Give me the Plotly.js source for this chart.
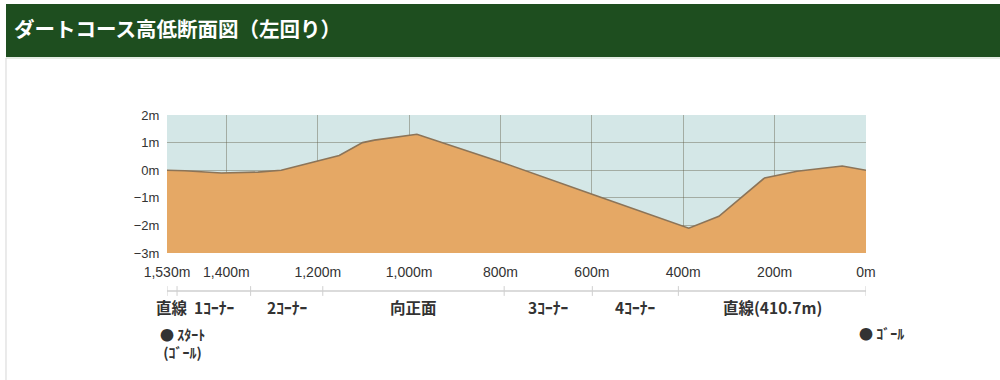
<!DOCTYPE html>
<html>
<head>
<meta charset="utf-8">
<script src="https://cdn.plot.ly/plotly-3.0.1.min.js"></script>
<style>
  html, body { margin: 0; padding: 0; background: #ffffff; }
  #chart { width: 1000px; height: 380px; }
</style>
</head>
<body>
<div id="chart"></div>
<script>
// ---- data ----
const titleText = "ダートコース高低断面図（左回り）";

// distance from the goal (m) and elevation (m)
const distance  = [1530, 1491, 1411, 1331, 1280, 1194, 1153, 1102, 1076, 983, 798, 598, 388, 322, 222, 151, 52, 0];
const elevation = [0.0, -0.02, -0.1, -0.07, 0.0, 0.35, 0.53, 1.0, 1.09, 1.3, 0.29, -0.88, -2.1, -1.67, -0.28, -0.04, 0.15, 0.0];

const xTickVals = [1530, 1400, 1200, 1000, 800, 600, 400, 200, 0];
const xTickText = ["1,530m", "1,400m", "1,200m", "1,000m", "800m", "600m", "400m", "200m", "0m"];
const yTickVals = [2, 1, 0, -1, -2, -3];
const yTickText = ["2m", "1m", "0m", "−1m", "−2m", "−3m"];
const yMin = -3, yMax = 2;

// course sections (boundaries in distance from goal) and their names
const sectionBounds = [1530, 1508, 1347, 1189, 792, 599, 410.7, 0];
const sectionNames  = ["直線", "1ｺｰﾅｰ", "2ｺｰﾅｰ", "向正面", "3ｺｰﾅｰ", "4ｺｰﾅｰ", "直線(410.7m)"];

const startLabel = "● ｽﾀｰﾄ<br> (ｺﾞｰﾙ)";
const goalLabel  = "● ｺﾞｰﾙ";
const startAt = 1530, goalAt = 0;

// ---- styles ----
const W = 1000, H = 380;
const px = v => v / W;           // x pixel -> paper
const py = v => 1 - v / H;       // y pixel -> paper
const sky = "#d4e7e7";
const ground = "#e5a865";
const profileLine = "#8c7458";
const gridCol = "rgba(95,90,70,0.42)";
const labelFont = "Noto Sans CJK JP";

const traces = [
  { // baseline at the axis bottom
    x: [sectionBounds[0], sectionBounds[sectionBounds.length - 1]],
    y: [yMin, yMin],
    type: "scatter", mode: "lines",
    line: { width: 0, color: ground },
    hoverinfo: "skip", showlegend: false, xaxis: "x", yaxis: "y"
  },
  { // ground profile
    x: distance, y: elevation,
    type: "scatter", mode: "lines",
    fill: "tonexty", fillcolor: ground,
    line: { color: profileLine, width: 1.6 },
    showlegend: false, xaxis: "x", yaxis: "y"
  },
  { // section ruler
    x: sectionBounds, y: sectionBounds.map(() => 0),
    type: "scatter", mode: "lines+markers",
    line: { color: "#cfcfcf", width: 1.5 },
    marker: { symbol: "line-ns-open", size: 7, line: { color: "#b5b5b5", width: 1 } },
    hoverinfo: "skip", showlegend: false, xaxis: "x2", yaxis: "y2"
  }
];

const annotations = [];
for (let i = 0; i < sectionNames.length; i++) {
  annotations.push({
    x: (sectionBounds[i] + sectionBounds[i + 1]) / 2, xref: "x",
    y: py(307), yref: "paper", yanchor: "middle", xanchor: "center",
    text: sectionNames[i], showarrow: false,
    font: { family: labelFont, size: 15.5, color: "#333333", weight: "bold" }
  });
}
annotations.push({
  x: startAt, xref: "x", xshift: -9,
  y: py(322), yref: "paper", yanchor: "top", xanchor: "left", align: "left",
  text: startLabel, showarrow: false,
  font: { family: labelFont, size: 14, color: "#333333", weight: "bold" }
});
annotations.push({
  x: goalAt, xref: "x", xshift: -9,
  y: py(333), yref: "paper", yanchor: "middle", xanchor: "left", align: "left",
  text: goalLabel, showarrow: false,
  font: { family: labelFont, size: 14, color: "#333333", weight: "bold" }
});

const shapes = [
  { type: "rect", xref: "paper", yref: "paper", x0: px(6), x1: 1, y0: py(57), y1: py(4),
    fillcolor: "#1e4e1f", line: { width: 0 }, layer: "below" },
  { type: "line", xref: "paper", yref: "paper", x0: px(6), x1: 1, y0: py(58), y1: py(58),
    line: { color: "#c9d9c6", width: 1 }, layer: "below" },
  { type: "line", xref: "paper", yref: "paper", x0: px(6), x1: px(6), y0: 0, y1: py(58),
    line: { color: "#dddddd", width: 1.2 }, layer: "below" },
  { type: "rect", xref: "x domain", yref: "y domain", x0: 0, x1: 1, y0: 0, y1: 1,
    fillcolor: sky, line: { width: 0 }, layer: "below" }
];

const xDomain = [px(167), px(866)];

const layout = {
  width: W, height: H, autosize: false,
  margin: { l: 0, r: 0, t: 0, b: 0, pad: 0 },
  paper_bgcolor: "#ffffff",
  plot_bgcolor: "rgba(0,0,0,0)",
  title: {
    text: titleText, xref: "paper", yref: "paper",
    x: px(14), xanchor: "left", y: py(30), yanchor: "middle",
    font: { family: labelFont, size: 20.5, color: "#ffffff", weight: "bold" }
  },
  xaxis: {
    domain: xDomain, range: [1530, 0], anchor: "y",
    tickvals: xTickVals, ticktext: xTickText,
    showgrid: true, gridcolor: gridCol, gridwidth: 1,
    zeroline: false, showline: false, layer: "above traces",
    ticks: "outside", ticklen: 6, tickcolor: "rgba(0,0,0,0)",
    tickfont: { family: "Liberation Sans", size: 14, color: "#333333" },
    fixedrange: true
  },
  yaxis: {
    domain: [py(253), py(115)], range: [yMin, yMax], anchor: "x",
    tickvals: yTickVals, ticktext: yTickText,
    showgrid: true, gridcolor: gridCol, gridwidth: 1,
    zeroline: false, showline: false, layer: "above traces",
    ticks: "outside", ticklen: 4, tickcolor: "rgba(0,0,0,0)",
    tickfont: { family: "Liberation Sans", size: 13, color: "#333333" },
    fixedrange: true
  },
  xaxis2: {
    domain: xDomain, range: [1530, 0], anchor: "y2", matches: "x",
    visible: false, showgrid: false, zeroline: false
  },
  yaxis2: {
    domain: [py(298), py(284)], range: [-1, 1], anchor: "x2",
    visible: false, showgrid: false, zeroline: false
  },
  shapes: shapes,
  annotations: annotations,
  showlegend: false,
  hovermode: false
};

Plotly.newPlot("chart", traces, layout, { displayModeBar: false, staticPlot: true });
</script>
</body>
</html>
